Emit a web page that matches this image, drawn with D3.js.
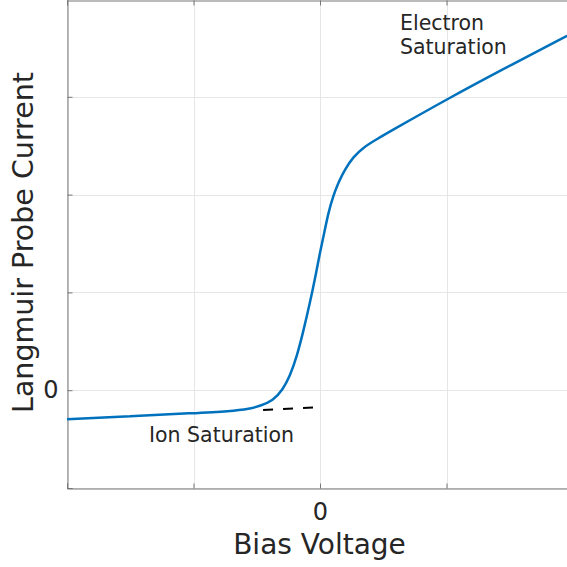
<!DOCTYPE html>
<html>
<head>
<meta charset="utf-8">
<script src="https://cdn.jsdelivr.net/npm/d3@7"></script>
<style>
  body { margin: 0; background: #fff; }
  text { font-family: "DejaVu Sans", sans-serif; fill: #262626; }
</style>
</head>
<body>
<svg id="chart" width="567" height="567"></svg>
<script>
// ** Data **
var biasVoltage = [-2.000, -1.502, -1.004, -0.711, -0.553, -0.474, -0.372, -0.292, -0.237,
                   -0.182, -0.134, -0.079, -0.040, 0.000, 0.026, 0.066, 0.105, 0.145,
                   0.198, 0.263, 0.342, 0.448, 0.579, 0.711, 1.004, 1.423, 1.953, 2.000];
var probeCurrent = [-0.297, -0.266, -0.235, -0.215, -0.189, -0.161, -0.109, 0.010, 0.146,
                    0.351, 0.590, 0.897, 1.135, 1.411, 1.561, 1.817, 1.987, 2.124,
                    2.260, 2.385, 2.482, 2.566, 2.664, 2.761, 2.975, 3.267, 3.623, 3.655];

var ionFitX = [-0.45, -0.055];    // dashed ion saturation fit
var ionFitY = [-0.202, -0.177];

var xTicks = [-2, -1, 0, 1, 2];
var yTicks = [-1, 0, 1, 2, 3, 4];
var xTickLabels = ["", "", "0", "", ""];
var yTickLabels = ["", "0", "", "", "", ""];

// ** Layout **
const plotLeft = 67, plotRight = 573, plotTop = -1, plotBottom = 488;

var svg = d3.select("#chart");

var x = d3.scaleLinear().domain([-2, 2]).range([plotLeft, plotRight]);
var y = d3.scaleLinear().domain([-1, 4]).range([plotBottom, plotTop]);

// grid
svg.append("g").selectAll("line").data(xTicks).enter().append("line")
	.attr("x1", d => Math.round(x(d)) + 0.5).attr("x2", d => Math.round(x(d)) + 0.5)
	.attr("y1", 0).attr("y2", plotBottom)
	.style("stroke", "#e6e6e6").style("stroke-width", 1);
svg.append("g").selectAll("line").data(yTicks).enter().append("line")
	.attr("y1", d => Math.round(y(d)) + 0.5).attr("y2", d => Math.round(y(d)) + 0.5)
	.attr("x1", plotLeft).attr("x2", 567)
	.style("stroke", "#e6e6e6").style("stroke-width", 1);

// axes (ticks point inward, like matlab)
var xAxis = d3.axisBottom(x).tickValues(xTicks).tickSize(-5)
	.tickFormat((d, i) => xTickLabels[i]).tickPadding(14);
var gx = svg.append("g").attr("transform", "translate(0," + (plotBottom + 0.5) + ")").call(xAxis);

var xTop = d3.axisTop(x).tickValues(xTicks).tickSize(-5).tickFormat("");
var gxt = svg.append("g").attr("transform", "translate(0,0.5)").call(xTop);

var yAxis = d3.axisLeft(y).tickValues(yTicks).tickSize(-5)
	.tickFormat((d, i) => yTickLabels[i]).tickPadding(9);
var gy = svg.append("g").attr("transform", "translate(" + (plotLeft + 0.5) + ",0)").call(yAxis);

[gx, gxt, gy].forEach(function(g) {
	g.select(".domain").style("stroke", "#777").style("stroke-width", 1);
	g.selectAll(".tick line").style("stroke", "#777");
	g.selectAll(".tick text").style("font-size", "24px")
		.style("font-family", "DejaVu Sans").style("fill", "#262626");
});

// curve (b-spline through the read points keeps the knee round)
var line = d3.line()
	.x(d => x(d[0]))
	.y(d => y(d[1]))
	.curve(d3.curveBasis);

svg.append("path")
	.datum(biasVoltage.map((v, i) => [v, probeCurrent[i]]))
	.attr("d", line)
	.style("fill", "none")
	.style("stroke", "#0072BD")
	.style("stroke-width", 2.5);

svg.append("path")
	.datum(ionFitX.map((v, i) => [v, ionFitY[i]]))
	.attr("d", d3.line().x(d => x(d[0])).y(d => y(d[1])))
	.style("fill", "none")
	.style("stroke", "#000")
	.style("stroke-width", 2)
	.style("stroke-dasharray", "10,10");

// labels
svg.append("text")
	.attr("x", 319.5).attr("y", 554)
	.attr("text-anchor", "middle")
	.style("font-size", "28px")
	.text("Bias Voltage");

svg.append("text")
	.attr("transform", "translate(33,242.5) rotate(-90)")
	.attr("text-anchor", "middle")
	.style("font-size", "28.5px")
	.text("Langmuir Probe Current");

// annotations
svg.append("text").attr("x", 400).attr("y", 29.5).style("font-size", "20.5px").text("Electron");
svg.append("text").attr("x", 400).attr("y", 54).style("font-size", "20.5px").text("Saturation");
svg.append("text").attr("x", 149).attr("y", 441.5).style("font-size", "20.5px").text("Ion Saturation");
</script>
</body>
</html>
